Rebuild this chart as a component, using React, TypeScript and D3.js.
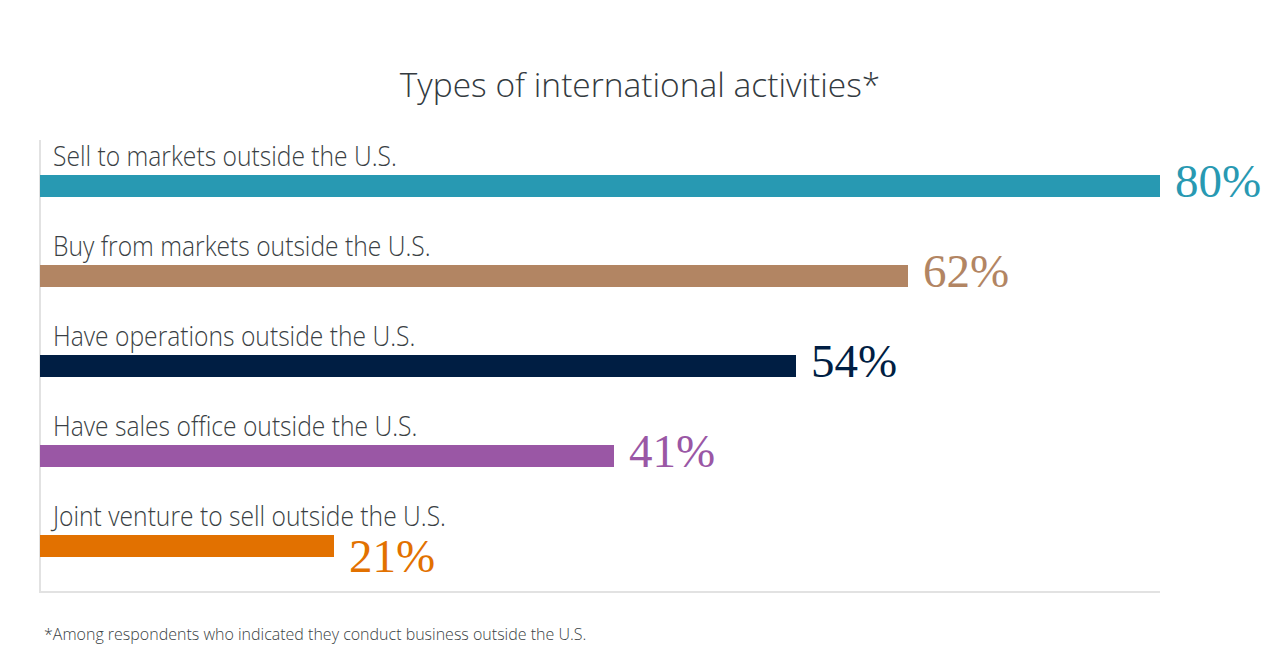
import * as d3 from 'd3';
import React from 'react';

const categories = [
  'Sell to markets outside the U.S.',
  'Buy from markets outside the U.S.',
  'Have operations outside the U.S.',
  'Have sales office outside the U.S.',
  'Joint venture to sell outside the U.S.',
];
const values = [80, 62, 54, 41, 21];
const colors = ['#2899b2', '#b28563', '#001e43', '#9a57a5', '#e27100'];
const title = 'Types of international activities*';
const footnote = '*Among respondents who indicated they conduct business outside the U.S.';

export default function App() {
  const svgRef = React.useRef<SVGSVGElement>(null);

  React.useEffect(() => {
    if (svgRef.current == null) {
      return;
    }
    const w = 1280;
    const left = 40;
    const right = 1160;
    const sans = "'Open Sans', 'Noto Sans', sans-serif";
    const squeeze = 0.88; // labels are set in a narrower cut than the title

    const svg = d3.select(svgRef.current);
    svg.selectAll('*').remove();

    const xScale = d3.scaleLinear().domain([0, 80]).range([left, right]);
    const yScale = d3.scaleBand<string>().domain(categories).range([130, 580]);

    svg
      .append('text')
      .attr('x', w / 2)
      .attr('y', 97)
      .attr('text-anchor', 'middle')
      .style('font-family', sans)
      .style('font-weight', 300)
      .style('font-size', '33.5px')
      .attr('fill', '#333a40')
      .text(title);

    // frame: left and bottom rules
    svg
      .append('line')
      .attr('x1', left)
      .attr('x2', left)
      .attr('y1', 140)
      .attr('y2', 593)
      .attr('stroke', '#e2e2e2')
      .attr('stroke-width', 2);
    svg
      .append('line')
      .attr('x1', left)
      .attr('x2', right)
      .attr('y1', 592)
      .attr('y2', 592)
      .attr('stroke', '#e2e2e2')
      .attr('stroke-width', 2);

    const rows = svg
      .selectAll('g.row')
      .data(categories)
      .join('g')
      .attr('class', 'row')
      .attr('transform', (d) => `translate(0, ${yScale(d)})`);

    const labels = rows
      .append('text')
      .attr('transform', `translate(53, 36) scale(${squeeze}, 1)`)
      .style('font-family', sans)
      .style('font-weight', 350)
      .style('font-size', '28px')
      .attr('fill', '#3a3f44')
      .text((d) => d);

    const labelEnds = labels
      .nodes()
      .map((n) => 53 + squeeze * (n as SVGTextElement).getComputedTextLength());

    rows
      .append('rect')
      .attr('x', xScale(0))
      .attr('y', 45)
      .attr('width', (_, i) => xScale(values[i]) - xScale(0))
      .attr('height', 22)
      .attr('fill', (_, i) => colors[i]);

    // value drops lower when it would run into the category label above
    rows
      .append('text')
      .attr('x', (_, i) => xScale(values[i]) + 15)
      .attr('y', (_, i) => (xScale(values[i]) + 15 < labelEnds[i] ? 82 : 67))
      .style('font-family', "'Liberation Serif', 'DejaVu Serif', serif")
      .style('font-size', '47px')
      .attr('fill', (_, i) => colors[i])
      .text((_, i) => `${values[i]}%`);

    svg
      .append('text')
      .attr('x', 44)
      .attr('y', 640)
      .style('font-family', sans)
      .style('font-weight', 350)
      .style('font-size', '16px')
      .attr('fill', '#3a3f44')
      .text(footnote);
  }, []);

  return <svg ref={svgRef} width={1280} height={660} style={{ display: 'block', margin: '-8px' }}></svg>;
}
